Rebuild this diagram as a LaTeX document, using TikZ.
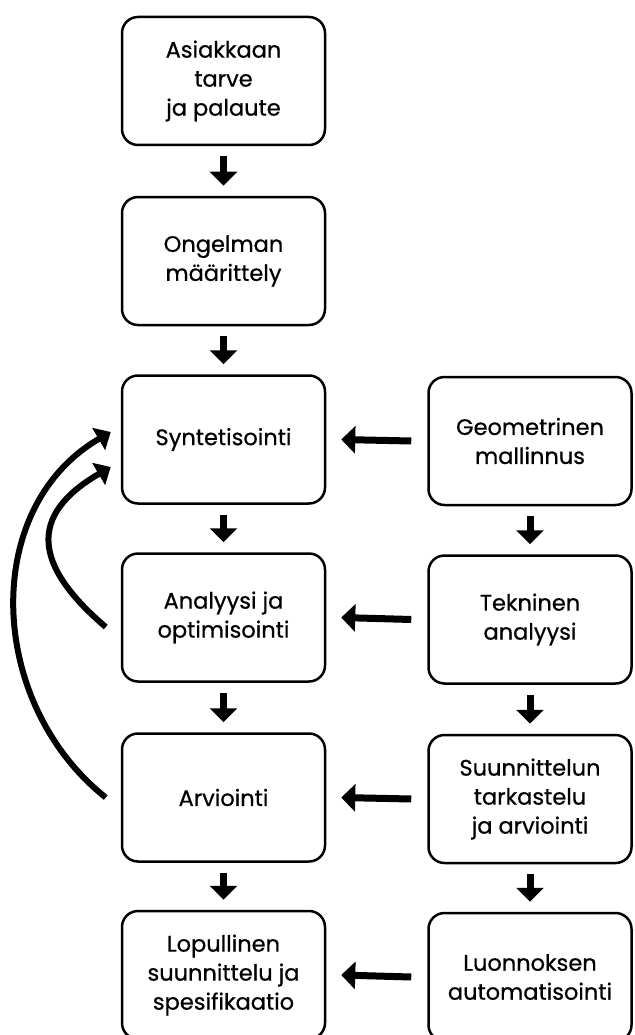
\documentclass[tikz,border=0pt]{standalone}
\usepackage{fontspec}
\setmainfont[FakeBold=0.6]{Poppins}
\usetikzlibrary{arrows.meta}
\begin{document}
\begin{tikzpicture}[x=1pt,y=-1pt,
  box/.style={draw, line width=2.5pt, rounded corners=16pt, minimum width=203pt, minimum height=128pt, align=center, font=\fontsize{22.5}{29}\selectfont, inner sep=0pt},
  darrow/.style={line width=7pt, -{Triangle[width=27pt,length=14pt]}},
  carrow/.style={line width=6pt, -{Triangle[width=25pt,length=14pt]}}]
\useasboundingbox (0,0) rectangle (634,1035);
\node[box] (L1) at (223.5,81) {Asiakkaan\\tarve\\ja palaute};
\node[box] (L2) at (223.5,261) {Ongelman\\määrittely};
\node[box] (L3) at (223.5,439.5) {Syntetisointi};
\node[box] (L4) at (223.5,617.5) {Analyysi ja\\optimisointi};
\node[box] (L5) at (223.5,797.5) {Arviointi};
\node[box] (L6) at (223.5,975) {Lopullinen\\suunnittelu ja\\spesifikaatio};
\node[box] (R1) at (530,441) {Geometrinen\\mallinnus};
\node[box] (R2) at (530,619.5) {Tekninen\\analyysi};
\node[box] (R3) at (530,799) {Suunnittelun\\tarkastelu\\ja arviointi};
\node[box] (R4) at (530,977) {Luonnoksen\\automatisointi};
\foreach \a/\b in {L1/L2,L2/L3,L3/L4,L4/L5,L5/L6,R1/R2,R2/R3,R3/R4}
  \draw[darrow] ([yshift=-10pt]\a.south) -- ([yshift=10pt]\b.north);
\foreach \a/\b in {R1/L3,R2/L4,R3/L5,R4/L6}
  \draw[darrow] ([xshift=-16pt]\a.west) -- ([xshift=15pt]\b.east);
\draw[carrow] ([xshift=-15pt]L5.west) .. controls (-13,703) and (-20,508) .. ([xshift=-10pt,yshift=7.5pt]L3.west);
\draw[carrow] ([xshift=-15pt,yshift=-9.5pt]L4.west) .. controls (33,565) and (28,515) .. ([xshift=-10pt,yshift=-27.5pt]L3.west);
\end{tikzpicture}
\end{document}
